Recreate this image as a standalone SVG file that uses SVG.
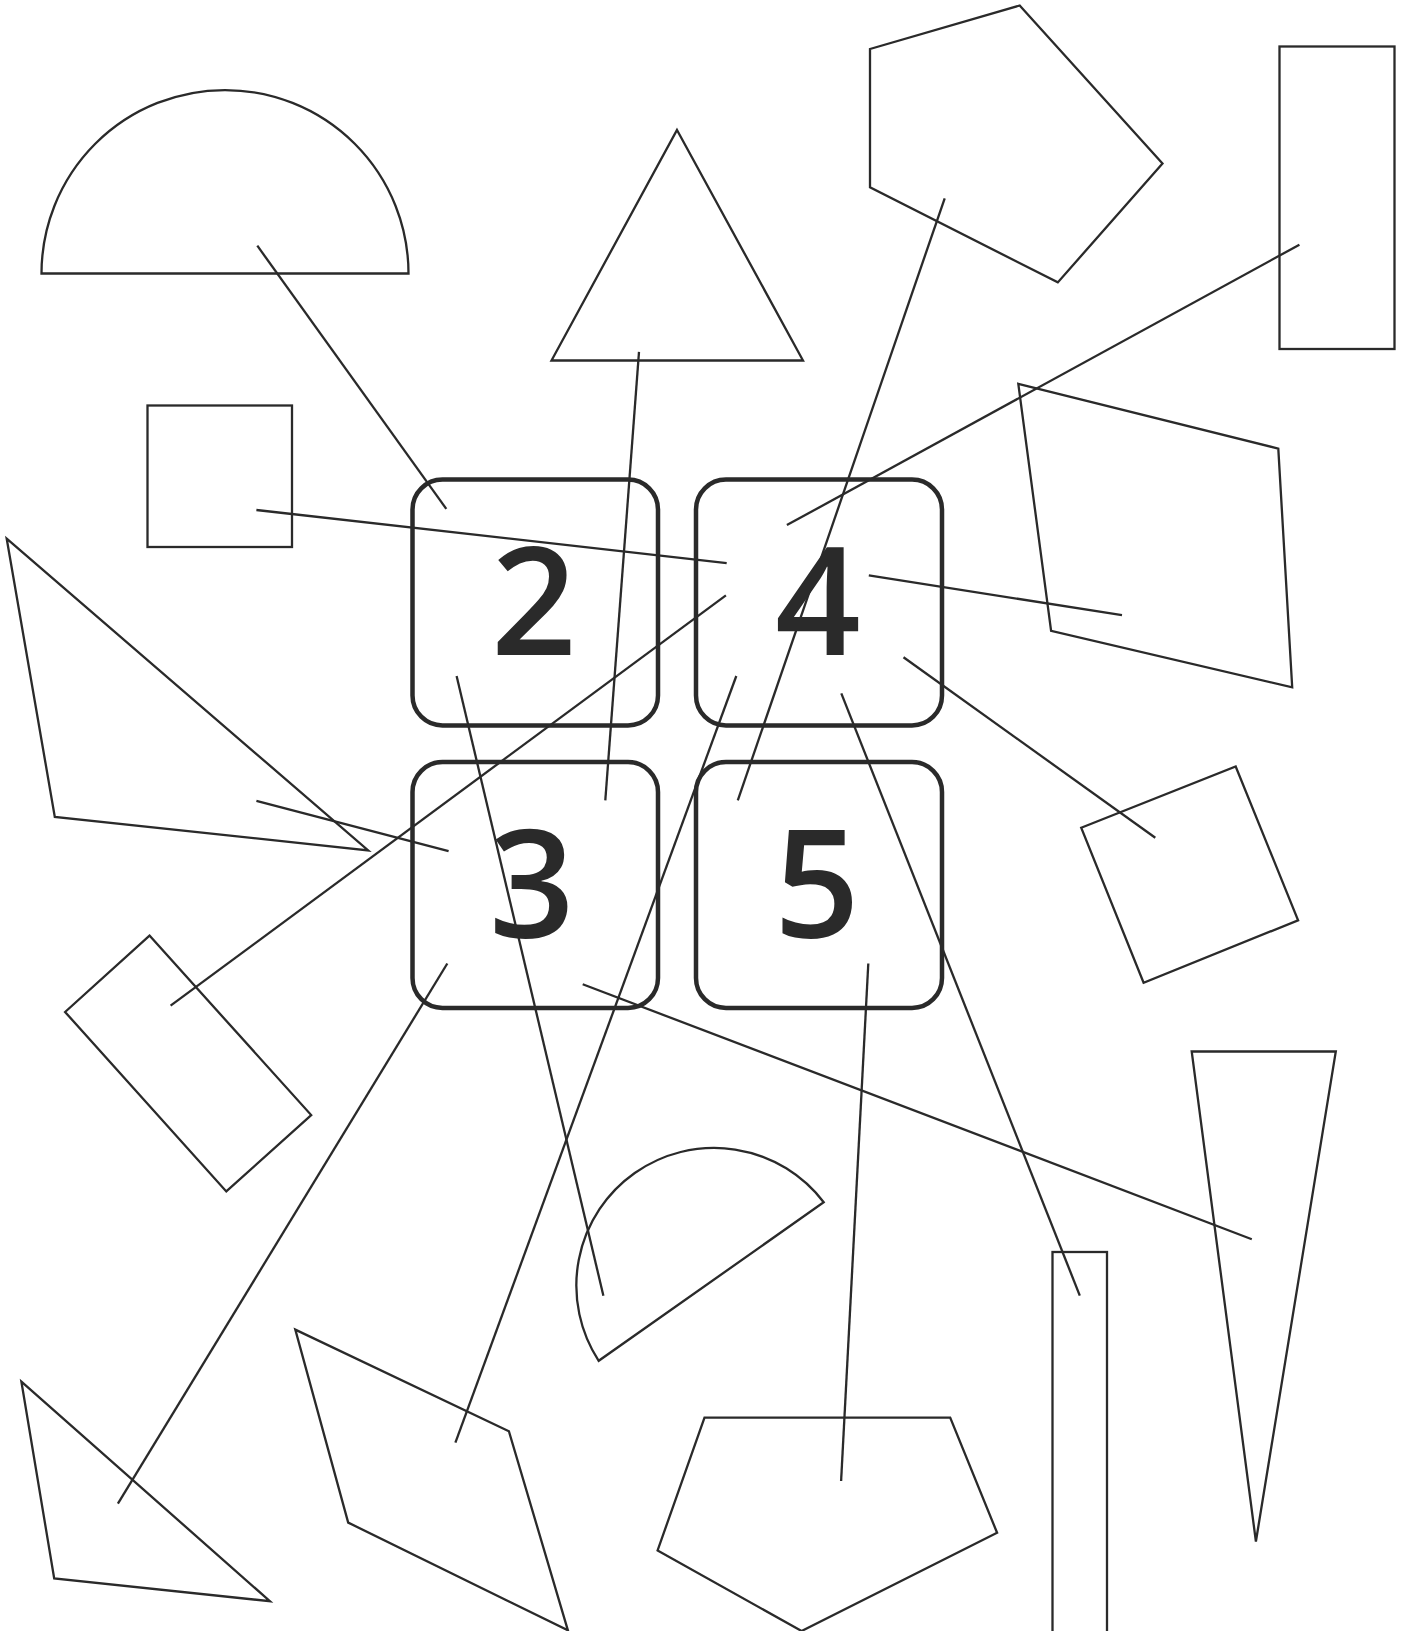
<svg xmlns="http://www.w3.org/2000/svg" width="1408" height="1631" viewBox="0 0 1408 1631">
<style>
.s{fill:none;stroke:#2a2a2a;stroke-width:2.3;stroke-linejoin:miter}
.c{fill:none;stroke:#2a2a2a;stroke-width:2.3}
.b{fill:none;stroke:#2a2a2a;stroke-width:4.5}
.t{font-family:"Open Sans","Noto Sans",sans-serif;font-size:150px;font-weight:600;fill:#2a2a2a;text-anchor:middle}
</style>
<rect width="1408" height="1631" fill="#fff"/>
<g id="shapes">
<path id="semicircle-top" class="s" d="M41.5,273.5 A183.5,183.5 0 0 1 408.5,273.5 Z"/>
<polygon id="triangle-top" class="s" points="677,130 803,360.5 551.5,360.5"/>
<polygon id="pentagon-top" class="s" points="870,49 1019.7,5.5 1162.5,163.5 1057.8,282.4 870,187.3"/>
<rect id="rect-right" class="s" x="1279.5" y="46.5" width="115" height="302.5"/>
<polygon id="quad-right" class="s" points="1018.3,383.8 1278.3,448.6 1292.2,687.3 1051.1,630.8"/>
<rect id="square-left" class="s" x="147.5" y="405.5" width="144.5" height="141.5"/>
<polygon id="triangle-left" class="s" points="6.7,538.7 368.2,850.4 54.8,816.9"/>
<polygon id="rotrect-left" class="s" points="149.5,935.6 311.2,1115.1 226.3,1191.4 65.1,1012"/>
<polygon id="rotsquare-right" class="s" points="1081.2,827.7 1235.7,766.5 1298.1,920.3 1143.6,982.7"/>
<polygon id="triangle-tall" class="s" points="1191.7,1051.5 1335.8,1051.5 1255.9,1541.5"/>
<rect id="rect-thin" class="s" x="1052.5" y="1252" width="54.5" height="420"/>
<path id="semicircle-bottom" class="s" d="M598.7,1360.8 A137.7,137.7 0 0 1 823.7,1202.3 Z"/>
<polygon id="quad-bottom" class="s" points="295.3,1329.6 508.9,1431.2 567.9,1630.3 348.2,1522.6"/>
<polygon id="triangle-bottom" class="s" points="21.4,1381.7 269.9,1601.2 54.2,1578.5"/>
<polygon id="pentagon-bottom" class="s" points="704.5,1417.6 950.2,1417.6 997.1,1532.8 801.6,1631 657.6,1550.4"/>
</g>
<g id="connectors">
<line class="c" x1="257.3" y1="245.7" x2="446.3" y2="508.9"/>
<line class="c" x1="256.4" y1="510" x2="726.7" y2="563.2"/>
<line class="c" x1="639" y1="351.8" x2="605.3" y2="800.3"/>
<line class="c" x1="944.7" y1="198.3" x2="737.8" y2="800.3"/>
<line class="c" x1="1299.4" y1="244.7" x2="786.9" y2="525.1"/>
<line class="c" x1="868.8" y1="575.3" x2="1122" y2="615.2"/>
<line class="c" x1="903.5" y1="657.2" x2="1155.3" y2="837.8"/>
<line class="c" x1="725.9" y1="595.4" x2="170.6" y2="1005.7"/>
<line class="c" x1="256.4" y1="800.8" x2="448.6" y2="851.2"/>
<line class="c" x1="456.6" y1="676" x2="603.4" y2="1295.7"/>
<line class="c" x1="736.3" y1="676" x2="455.4" y2="1442.7"/>
<line class="c" x1="841.3" y1="693.4" x2="1079.8" y2="1295.6"/>
<line class="c" x1="447.3" y1="963.5" x2="117.9" y2="1503.7"/>
<line class="c" x1="582.7" y1="984.2" x2="1251.8" y2="1239.2"/>
<line class="c" x1="868.3" y1="963.5" x2="841.1" y2="1481"/>
</g>
<g id="node-2">
<rect class="b" x="412.5" y="479.5" width="245.5" height="246" rx="30"/>
<text class="t" x="534" y="655">2</text>
</g>
<g id="node-4">
<rect class="b" x="696" y="479.5" width="246" height="246" rx="30"/>
<text class="t" x="818" y="655">4</text>
</g>
<g id="node-3">
<rect class="b" x="412.5" y="762" width="245.5" height="246" rx="30"/>
<text class="t" x="532" y="938">3</text>
</g>
<g id="node-5">
<rect class="b" x="696" y="762" width="246" height="246" rx="30"/>
<text class="t" x="817" y="938">5</text>
</g>
</svg>
